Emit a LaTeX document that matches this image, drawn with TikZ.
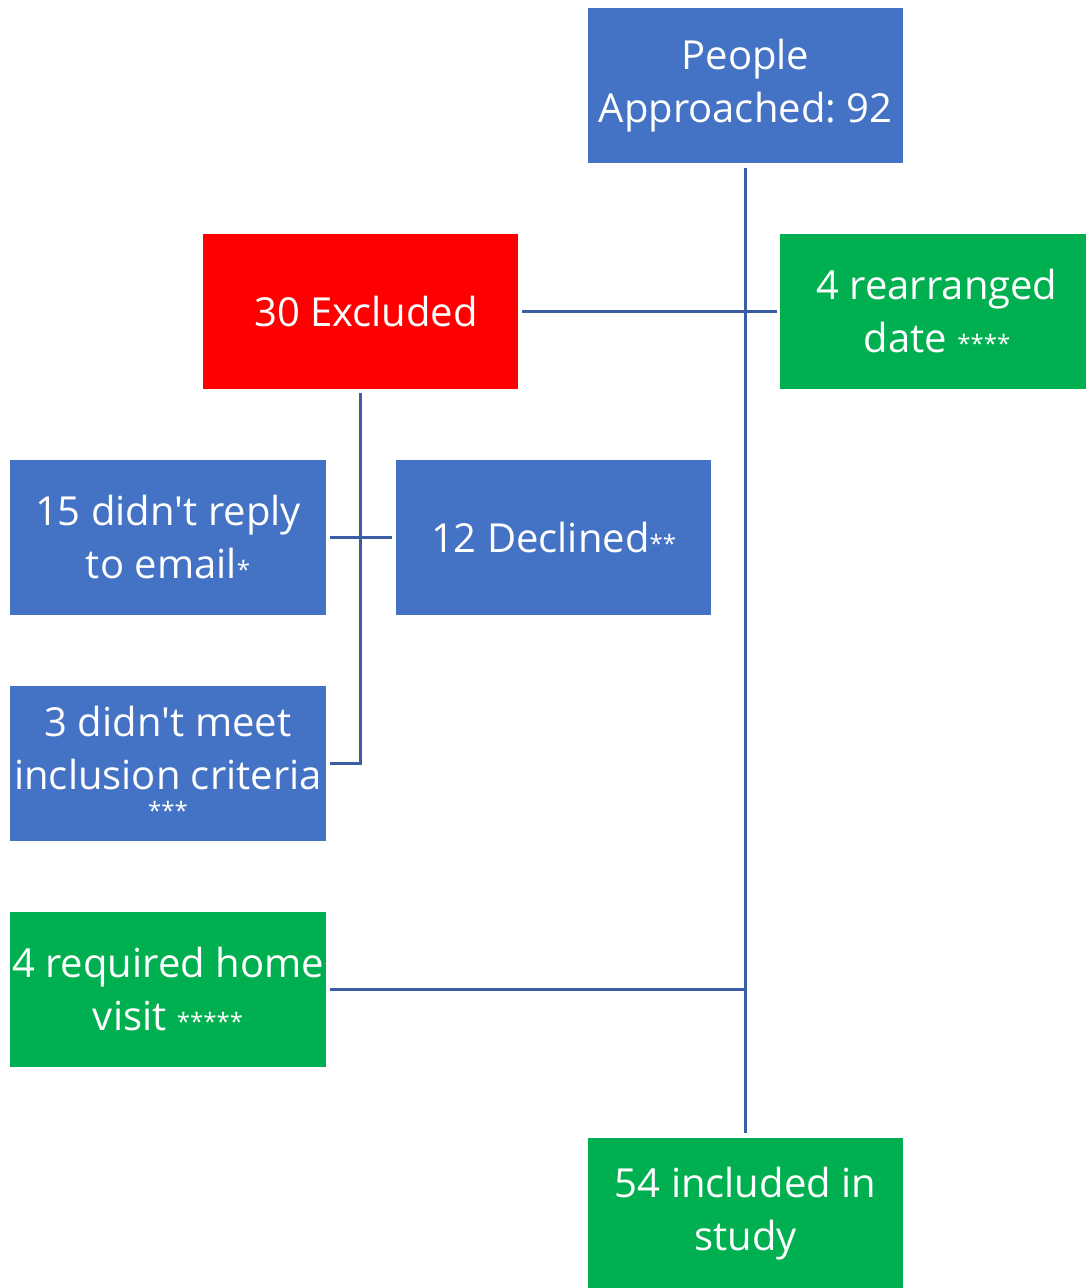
\documentclass[tikz,border=0pt]{standalone}
\usepackage{fontspec}
\setmainfont{Open Sans}
\frenchspacing
\definecolor{boxblue}{HTML}{4472C4}
\definecolor{boxred}{HTML}{FF0000}
\definecolor{boxgreen}{HTML}{00B050}
\definecolor{linkblue}{HTML}{3A5DA6}
\newcommand{\astmark}[1]{{\fontsize{24}{24}\selectfont #1}}
\begin{document}
\begin{tikzpicture}[x=1pt,y=-1pt,
  box/.style={rectangle, inner sep=0pt, outer sep=0pt, text=white, align=center,
    font=\fontsize{40}{53}\selectfont},
  link/.style={draw=linkblue, line width=3pt}]
\useasboundingbox (0,0) rectangle (1086,1288);
\fill[boxblue] (588,8) rectangle (903,163);
\node[box] (people) at (745.5,85.5) {People\\Approached: 92};
\fill[boxred] (203,234) rectangle (518,389);
\node[box] (excl) at (366,311) {30 Excluded};
\fill[boxgreen] (780,234) rectangle (1086,389);
\node[box] (rearr) at (937,311) {4 rearranged\\date \astmark{****}};
\fill[boxblue] (10,460) rectangle (326,615);
\node[box] (reply) at (168,537) {15 didn\textquotesingle t reply\\to email\astmark{*}};
\fill[boxblue] (396,460) rectangle (711,615);
\node[box] (decl) at (553.5,537) {12 Declined\astmark{**}};
\fill[boxblue] (10,686) rectangle (326,841);
\node[box] (meet) at (168,748) {3 didn\textquotesingle t meet\\inclusion criteria};
\node[box, font=\fontsize{24}{24}\selectfont] (meetast) at (168,810) {***};
\fill[boxgreen] (10,912) rectangle (326,1067);
\node[box] (home) at (168,989) {4 required home\\visit \astmark{*****}};
\fill[boxgreen] (588,1138) rectangle (903,1288);
\node[box] (incl) at (745.5,1214) {54 included in\\study};
% connectors
\coordinate (top) at (745,168);
\coordinate (bot) at (745,1133);
\coordinate (exR) at (522,311);
\coordinate (reL) at (777,311);
\coordinate (exB) at (360,393);
\coordinate (jB) at (360,763);
\coordinate (rpR) at (330,537);
\coordinate (dcL) at (392,537);
\coordinate (mtR) at (330,763);
\coordinate (hmR) at (330,989);
\coordinate (hmJ) at (745,989);
\draw[link] (top) -- (bot);
\draw[link] (exR) -- (reL);
\draw[link] (exB) -- (jB) -- (mtR);
\draw[link] (rpR) -- (dcL);
\draw[link] (hmR) -- (hmJ);
\end{tikzpicture}
\end{document}
